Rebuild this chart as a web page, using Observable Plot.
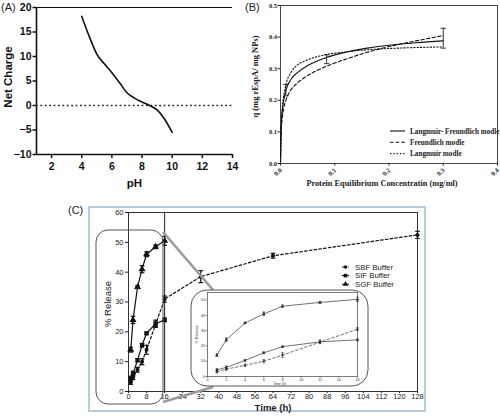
<!DOCTYPE html>
<html><head><meta charset="utf-8">
<script src="https://cdn.jsdelivr.net/npm/d3@7"></script>
<script src="https://cdn.jsdelivr.net/npm/@observablehq/plot@0.6"></script>
<style>
body{margin:0;background:#fff;}
#root{position:relative;width:500px;height:416px;overflow:hidden;font-family:"Liberation Sans",Arial,sans-serif;}
.lbl{position:absolute;font-size:11px;color:#222;line-height:1;white-space:nowrap;}
</style></head><body><div id="root"></div>
<script>
// ---------- Panel A data ----------
const phValues = [4, 4.5, 5, 5.5, 6, 6.5, 7, 7.5, 8, 8.5, 9, 9.5, 10];
const netCharge = [18.2, 14.1, 10.5, 8.5, 6.7, 4.7, 2.6, 1.5, 0.7, 0.0, -0.9, -2.8, -5.5];
const phTicks = [2, 4, 6, 8, 10, 12, 14];
const chargeTicks = [-10, -5, 0, 5, 10, 15, 20];

// ---------- Panel B data ----------
const concValues = [0, 0.001, 0.003, 0.006, 0.01, 0.02, 0.03, 0.05, 0.085, 0.12, 0.16, 0.2, 0.25, 0.3];
const langmuirFreundlich = [0, 0.10, 0.16, 0.20, 0.232, 0.268, 0.286, 0.31, 0.336, 0.352, 0.365, 0.374, 0.382, 0.388];
const freundlich = [0, 0.09, 0.14, 0.175, 0.20, 0.235, 0.253, 0.278, 0.308, 0.33, 0.352, 0.37, 0.388, 0.405];
const langmuir = [0, 0.10, 0.17, 0.215, 0.25, 0.29, 0.31, 0.328, 0.345, 0.353, 0.36, 0.364, 0.367, 0.369];
const bErrConc = [0.01, 0.085, 0.3];
const bErrLo = [0.214, 0.316, 0.365];
const bErrHi = [0.25, 0.344, 0.428];
const concTicks = [0, 0.1, 0.2, 0.3, 0.4];
const qTicks = [0, 0.1, 0.2, 0.3, 0.4, 0.5];
const bSeriesNames = ["Langmuir- Freundlich modle", "Freundlich modle", "Langmuir modle"];

// ---------- Panel C data ----------
const timeSGF = [1, 2, 4, 6, 8, 12, 16];
const releaseSGF = [14, 24, 35, 41, 46, 48.5, 50.5];
const errSGF = [0.8, 1.2, 0.5, 1.2, 0.8, 0.6, 1.5];
const timeSIF = [1, 2, 4, 6, 8, 12, 16];
const releaseSIF = [4.3, 6, 10.5, 15.5, 19.5, 22.7, 24];
const errSIF = [0.8, 0.8, 0.5, 0.6, 0.4, 1.2, 0.6];
const timeSBF = [1, 2, 4, 6, 8, 12, 16, 32, 64, 128];
const releaseSBF = [3, 4.8, 7.3, 10, 14, 22.5, 31, 38.5, 45.5, 52.5];
const errSBF = [0.6, 0.8, 0.8, 1, 1.5, 0.8, 1, 2, 0.8, 1.2];
const timeTicks = [0, 8, 16, 24, 32, 40, 48, 56, 64, 72, 80, 88, 96, 104, 112, 120, 128];
const releaseTicks = [0, 10, 20, 30, 40, 50, 60];
const insetTimeTicks = [0, 2, 4, 6, 8, 10, 12, 14, 16];
const insetReleaseTicks = [0, 10, 20, 30, 40, 50];
const zoomEnd = 16;
const cSeriesNames = ["SBF Buffer", "SIF Buffer", "SGF Buffer"];

const root = document.getElementById("root");
function place(el, left, top, z) {
  el.style.position = "absolute"; el.style.left = left + "px"; el.style.top = top + "px";
  if (z != null) el.style.zIndex = z;
  root.appendChild(el); return el;
}
function label(txt, left, top, css) {
  const d = document.createElement("div"); d.className = "lbl"; d.textContent = txt;
  d.style.left = left + "px"; d.style.top = top + "px"; d.style.zIndex = 20;
  if (css) Object.assign(d.style, css);
  root.appendChild(d);
}
const capSym = {draw(ctx, size) { const r = Math.sqrt(size) / 2; ctx.moveTo(-r, 0); ctx.lineTo(r, 0); }};
const mid = {textAnchor: "middle", lineAnchor: "middle"};

// ---------- Panel A ----------
const aRows = phValues.map((p, i) => ({p, c: netCharge[i]}));
const plotA = Plot.plot({
  width: 250, height: 200, marginLeft: 36, marginRight: 18, marginTop: 7, marginBottom: 46,
  x: {domain: [1, 14]}, y: {domain: [-10, 20]},
  style: {fontFamily: "Liberation Sans, Arial, sans-serif", fontWeight: "bold", fontSize: "10.5px", color: "#111", background: "transparent", overflow: "visible"},
  marks: [
    Plot.axisX({ticks: phTicks, tickSize: 4, tickPadding: 4, label: null, strokeWidth: 1.5}),
    Plot.axisY({ticks: chargeTicks, tickSize: 3.5, tickPadding: 1.5, label: null, strokeWidth: 1.5}),
    Plot.ruleX([1], {stroke: "#111", strokeWidth: 1.6}),
    Plot.ruleY([-10], {stroke: "#111", strokeWidth: 1.6}),
    Plot.ruleY([20], {stroke: "#111", strokeWidth: 1.2}),
    Plot.ruleY([0], {stroke: "#222", strokeWidth: 1.6, strokeDasharray: "1.8,2.6"}),
    Plot.line(aRows, {x: "p", y: "c", curve: "monotone-x", stroke: "#111", strokeWidth: 1.6}),
    Plot.text(["Net Charge"], {...mid, frameAnchor: "left", dx: -28, dy: -4, rotate: -90, fontSize: 11.5, fontWeight: "bold", text: d => d}),
    Plot.text(["pH"], {...mid, frameAnchor: "bottom", dy: 29, fontSize: 11.5, fontWeight: "bold", text: d => d})
  ]
});
place(plotA, 0, 0, 1);

// ---------- Panel B ----------
const bRows = [];
[langmuirFreundlich, freundlich, langmuir].forEach((arr, k) =>
  concValues.forEach((c, i) => bRows.push({s: bSeriesNames[k], c, q: arr[i]})));
const bErr = bErrConc.map((c, i) => ({c, lo: bErrLo[i], hi: bErrHi[i]}));
const bDash = {"Langmuir- Freundlich modle": null, "Freundlich modle": "3.5,2.2", "Langmuir modle": "1.3,2"};
const plotB = Plot.plot({
  width: 250, height: 200, marginLeft: 30, marginRight: 3, marginTop: 5, marginBottom: 37,
  x: {domain: [0, 0.4]}, y: {domain: [0, 0.5]},
  style: {fontFamily: "Liberation Serif, Times New Roman, serif", fontWeight: "bold", fontSize: "6.5px", color: "#222", background: "transparent", overflow: "visible"},
  marks: [
    Plot.frame({stroke: "#333", strokeWidth: 0.9}),
    Plot.axisY({ticks: qTicks, tickFormat: d => d.toFixed(1), tickSize: 2.5, tickPadding: 1, label: null}),
    Plot.axisX({ticks: concTicks, tickFormat: () => "", tickSize: 2.5, label: null}),
    Plot.text(concTicks, {...mid, x: d => d, frameAnchor: "bottom", dx: -2.5, dy: 8.5, rotate: -45, text: d => d.toFixed(1)}),
    ...bSeriesNames.map(s => Plot.line(bRows.filter(r => r.s === s), {x: "c", y: "q", curve: "monotone-x", stroke: "#111", strokeWidth: 1.1, strokeDasharray: bDash[s]})),
    Plot.ruleX(bErr, {x: "c", y1: "lo", y2: "hi", stroke: "#222", strokeWidth: 0.9}),
    Plot.dot(bErr, {x: "c", y: "lo", symbol: capSym, r: 3, stroke: "#222", fill: "none", strokeWidth: 0.9}),
    Plot.dot(bErr, {x: "c", y: "hi", symbol: capSym, r: 3, stroke: "#222", fill: "none", strokeWidth: 0.9}),
    Plot.text(["q (mg rEspA/ mg NPs)"], {...mid, frameAnchor: "left", dx: -25, dy: -8, rotate: -90, fontSize: 8.5, text: d => d}),
    Plot.text(["Protein Equilibrium Concentratin (mg/ml)"], {...mid, frameAnchor: "bottom", dx: -7, dy: 20, fontSize: 8.3, text: d => d})
  ]
});
place(plotB, 250, 0, 1);

// Legend B
const legB = d3.create("svg").attr("width", 110).attr("height", 40).style("overflow", "visible");
bSeriesNames.forEach((s, i) => {
  const y = 6 + i * 11.3;
  legB.append("line").attr("x1", 0).attr("x2", 15).attr("y1", y).attr("y2", y).attr("stroke", "#111").attr("stroke-width", 1.1)
    .attr("stroke-dasharray", bDash[s]);
  legB.append("text").attr("x", 20).attr("y", y).attr("dy", "0.35em").attr("font-family", "Liberation Serif, Times New Roman, serif")
    .attr("font-weight", "bold").attr("font-size", 7.2).attr("fill", "#222").text(s);
});
place(legB.node(), 390, 125, 5);

// ---------- Panel C ----------
const cBox = document.createElement("div");
Object.assign(cBox.style, {width: "334px", height: "202px", border: "2px solid #b5cbdb", boxSizing: "content-box"});
place(cBox, 88, 206, 0);

function rows(name, t, v, e) { return t.map((d, i) => ({s: name, t: d, v: v[i], lo: v[i] - e[i], hi: v[i] + e[i]})); }
const sbf = rows("SBF Buffer", timeSBF, releaseSBF, errSBF);
const sif = rows("SIF Buffer", timeSIF, releaseSIF, errSIF);
const sgf = rows("SGF Buffer", timeSGF, releaseSGF, errSGF);
const symOf = {"SBF Buffer": "circle", "SIF Buffer": "square", "SGF Buffer": "triangle"};
const dashOf = {"SBF Buffer": "2.6,2.2", "SIF Buffer": null, "SGF Buffer": null};

function seriesMarks(data, opt) {
  const s = data[0].s;
  return [
    Plot.line(data, {x: "t", y: "v", stroke: opt.stroke, strokeWidth: opt.sw, strokeDasharray: dashOf[s]}),
    Plot.ruleX(data, {x: "t", y1: "lo", y2: "hi", stroke: opt.stroke, strokeWidth: opt.sw}),
    Plot.dot(data, {x: "t", y: "lo", symbol: capSym, r: opt.cap, stroke: opt.stroke, fill: "none", strokeWidth: opt.sw}),
    Plot.dot(data, {x: "t", y: "hi", symbol: capSym, r: opt.cap, stroke: opt.stroke, fill: "none", strokeWidth: opt.sw}),
    Plot.dot(data, {x: "t", y: "v", symbol: symOf[s], r: opt.r, fill: opt.stroke, stroke: "none"})
  ];
}

const plotC = Plot.plot({
  width: 338, height: 206, marginLeft: 39, marginRight: 10, marginTop: 5, marginBottom: 22,
  x: {domain: [0, 128]}, y: {domain: [0, 60]},
  style: {fontFamily: "Liberation Sans, Arial, sans-serif", fontSize: "7.5px", color: "#222", background: "transparent", overflow: "visible"},
  marks: [
    Plot.frame({stroke: "#333", strokeWidth: 1}),
    Plot.axisX({ticks: timeTicks, tickSize: 2, tickPadding: 0.5, label: null}),
    Plot.axisY({ticks: releaseTicks, tickSize: 3, tickPadding: 2, label: null}),
    Plot.ruleX([zoomEnd], {stroke: "#222", strokeWidth: 1}),
    ...seriesMarks(sgf, {stroke: "#111", sw: 1.2, cap: 2.6, r: 2.6}),
    ...seriesMarks(sif, {stroke: "#111", sw: 1.2, cap: 2.6, r: 2.4}),
    ...seriesMarks(sbf, {stroke: "#111", sw: 1.2, cap: 2.6, r: 2.0}),
    Plot.text(["% Release"], {...mid, frameAnchor: "left", dx: -21, dy: 2, rotate: -90, fontSize: 9.5, text: d => d}),
    Plot.text(["Time (h)"], {...mid, frameAnchor: "bottom", dy: 16, fontSize: 9.5, fontWeight: "bold", text: d => d})
  ]
});
place(plotC, 89, 207, 1);

// Decorations: zoom rectangle + connectors + inset box
const deco = d3.create("svg").attr("width", 500).attr("height", 416).style("overflow", "visible");
deco.append("rect").attr("x", 96).attr("y", 230).attr("width", 67).attr("height", 174).attr("rx", 12)
  .attr("fill", "none").attr("stroke", "#555").attr("stroke-width", 1);
deco.append("line").attr("x1", 163).attr("y1", 232).attr("x2", 213).attr("y2", 290).attr("stroke", "#9a9a9a").attr("stroke-width", 2.6);
deco.append("line").attr("x1", 163).attr("y1", 402).attr("x2", 213).attr("y2", 387).attr("stroke", "#9a9a9a").attr("stroke-width", 2.6);
deco.append("rect").attr("x", 191).attr("y", 290).attr("width", 177).attr("height", 96).attr("rx", 16)
  .attr("fill", "#fff").attr("stroke", "#555").attr("stroke-width", 1);
place(deco.node(), 0, 0, 2);

// Inset
const inSBF = sbf.filter(d => d.t <= zoomEnd);
const plotInset = Plot.plot({
  width: 177, height: 97, marginLeft: 16, marginRight: 11, marginTop: 3, marginBottom: 10,
  x: {domain: [0, 16]}, y: {domain: [0, 55]},
  style: {fontFamily: "Liberation Sans, Arial, sans-serif", fontSize: "3.8px", color: "#333", background: "transparent", overflow: "visible"},
  marks: [
    Plot.frame({stroke: "#444", strokeWidth: 0.7}),
    Plot.axisX({ticks: insetTimeTicks, tickSize: 1.5, tickPadding: 0.5, label: null, strokeWidth: 0.6}),
    Plot.axisY({ticks: insetReleaseTicks, tickSize: 1.5, tickPadding: 1, label: null, strokeWidth: 0.6}),
    ...seriesMarks(sgf, {stroke: "#333", sw: 0.7, cap: 1.4, r: 1.3}),
    ...seriesMarks(sif, {stroke: "#333", sw: 0.7, cap: 1.4, r: 1.2}),
    ...seriesMarks(inSBF, {stroke: "#333", sw: 0.7, cap: 1.4, r: 1.1}),
    Plot.text(["% Release"], {...mid, frameAnchor: "left", dx: -11, rotate: -90, fontSize: 3.8, text: d => d}),
    Plot.text(["Time (h)"], {...mid, frameAnchor: "bottom", dy: 7, dx: -3, fontSize: 3.6, text: d => d})
  ]
});
place(plotInset, 191, 289, 3);

// Legend C
const legC = d3.create("svg").attr("width", 70).attr("height", 30).style("overflow", "visible");
cSeriesNames.forEach((s, i) => {
  const y = 5 + i * 8.6;
  legC.append("line").attr("x1", 0).attr("x2", 7).attr("y1", y).attr("y2", y).attr("stroke", "#111").attr("stroke-width", 1)
    .attr("stroke-dasharray", s === "SBF Buffer" ? "2,1.2" : null);
  const sym = {circle: d3.symbolCircle, square: d3.symbolSquare, triangle: d3.symbolTriangle}[symOf[s]];
  legC.append("path").attr("d", d3.symbol(sym, s === "SBF Buffer" ? 9 : 13)()).attr("transform", `translate(3.5,${y})`).attr("fill", "#111");
  legC.append("text").attr("x", 13).attr("y", y).attr("dy", "0.35em").attr("font-family", "Liberation Sans, Arial, sans-serif")
    .attr("font-size", 7.8).attr("fill", "#222").text(s);
});
place(legC.node(), 342, 262, 5);

// Panel letters
label("(A)", 1, 2, {fontSize: "11px"});
label("(B)", 245, 2, {fontSize: "11px"});
label("(C)", 68, 205, {fontSize: "11px"});
</script></body></html>
